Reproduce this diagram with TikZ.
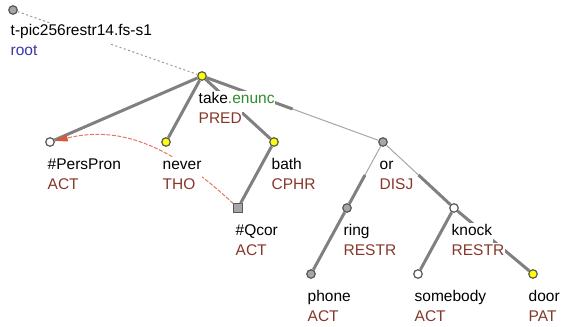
\documentclass[tikz,border=0pt]{standalone}
\usepackage{fontspec}
\setmainfont{Liberation Sans}
\usetikzlibrary{calc}
\usetikzlibrary{arrows.meta}
\definecolor{fnc}{RGB}{135,55,42}
\definecolor{grm}{RGB}{47,140,47}
\definecolor{rtc}{RGB}{55,55,170}
\definecolor{cor}{RGB}{216,88,58}
\definecolor{yel}{RGB}{255,255,0}
\begin{document}
\begin{tikzpicture}[x=1pt, y=-1pt,
    tn/.style = {draw=black!65, line width=1.2pt, circle, inner sep=0pt, minimum size=8.5pt},
    qn/.style = {draw=black!65, line width=1.2pt, rectangle, inner sep=0pt, minimum size=8.5pt, fill=black!35},
    edge/.style = {draw=black!50, line width=3pt},
    thinedge/.style = {draw=black!35, line width=1pt},
    txt/.style = {anchor=base west, inner sep=0.5pt, fill=white, text height=12pt, text depth=8pt, font=\fontsize{15.5}{18}\selectfont},
    lemma/.style = {txt, text=black},
    func/.style = {txt, text=fnc}]
\useasboundingbox (0,0) rectangle (563,327);
% tree nodes
\node[tn, fill=black!35] (root) at (13,10) {};
\node[tn, fill=yel] (take) at (202,76) {};
\node[tn, fill=white] (perspron) at (50,142) {};
\node[tn, fill=yel] (never) at (166,142) {};
\node[tn, fill=yel] (bath) at (274,142) {};
\node[qn] (qcor) at (238,208) {};
\node[tn, fill=black!35] (or) at (383,142) {};
\node[tn, fill=black!35] (ring) at (347,208) {};
\node[tn, fill=white] (knock) at (454,208) {};
\node[tn, fill=black!35] (phone) at (311,274) {};
\node[tn, fill=white] (somebody) at (418,274) {};
\node[tn, fill=yel] (door) at (533,274) {};
% edges
\draw[black!40, line width=1pt, dash pattern=on 2pt off 2.5pt] (root) -- (take);
\draw[edge] (take) -- (perspron);
\draw[edge] (take) -- (never);
\draw[edge] (take) -- (bath);
\draw[edge] (bath) -- (qcor);
\draw[thinedge] (take) -- (or);
\draw[edge] (take) -- ($(take)!0.5!(or)$);
\draw[thinedge] (or) -- (ring);
\draw[edge] ($(or)!0.5!(ring)$) -- (ring);
\draw[thinedge] (or) -- (knock);
\draw[edge] ($(or)!0.5!(knock)$) -- (knock);
\draw[edge] (ring) -- (phone);
\draw[edge] (knock) -- (somebody);
\draw[edge] (knock) -- (door);
% coreference
\draw[cor!80, line width=1pt, dash pattern=on 4pt off 1.5pt, -{Triangle[length=13pt, width=7pt, fill=cor, color=cor]}]
    (qcor) .. controls (160,135) and (110,128) .. (perspron);
% labels
\node[lemma] (rootL) at ($(root)+(-3,25)$) {t-pic256restr14.fs-s1};
\node[txt, text=rtc] (rootF) at ($(root)+(-3,45)$) {root};
\node[lemma] (takeL) at ($(take)+(-4,27)$) {take\textcolor{grm}{.enunc}};
\node[func] (takeF) at ($(take)+(-4,47)$) {PRED};
\node[lemma] (persL) at ($(perspron)+(-3,27)$) {\#PersPron};
\node[func] (persF) at ($(perspron)+(-3,47)$) {ACT};
\node[lemma] (neverL) at ($(never)+(-4,27)$) {never};
\node[func] (neverF) at ($(never)+(-4,47)$) {THO};
\node[lemma] (bathL) at ($(bath)+(-3,27)$) {bath};
\node[func] (bathF) at ($(bath)+(-3,47)$) {CPHR};
\node[lemma] (qcorL) at ($(qcor)+(-3,27)$) {\#Qcor};
\node[func] (qcorF) at ($(qcor)+(-3,47)$) {ACT};
\node[lemma] (orL) at ($(or)+(-4,27)$) {or};
\node[func] (orF) at ($(or)+(-4,47)$) {DISJ};
\node[lemma] (ringL) at ($(ring)+(-4,27)$) {ring};
\node[func] (ringF) at ($(ring)+(-4,47)$) {RESTR};
\node[lemma] (knockL) at ($(knock)+(-3,27)$) {knock};
\node[func] (knockF) at ($(knock)+(-3,47)$) {RESTR};
\node[lemma] (phoneL) at ($(phone)+(-4,27)$) {phone};
\node[func] (phoneF) at ($(phone)+(-4,47)$) {ACT};
\node[lemma] (someL) at ($(somebody)+(-4,27)$) {somebody};
\node[func] (someF) at ($(somebody)+(-4,47)$) {ACT};
\node[lemma] (doorL) at ($(door)+(-5,27)$) {door};
\node[func] (doorF) at ($(door)+(-5,47)$) {PAT};
\end{tikzpicture}
\end{document}
